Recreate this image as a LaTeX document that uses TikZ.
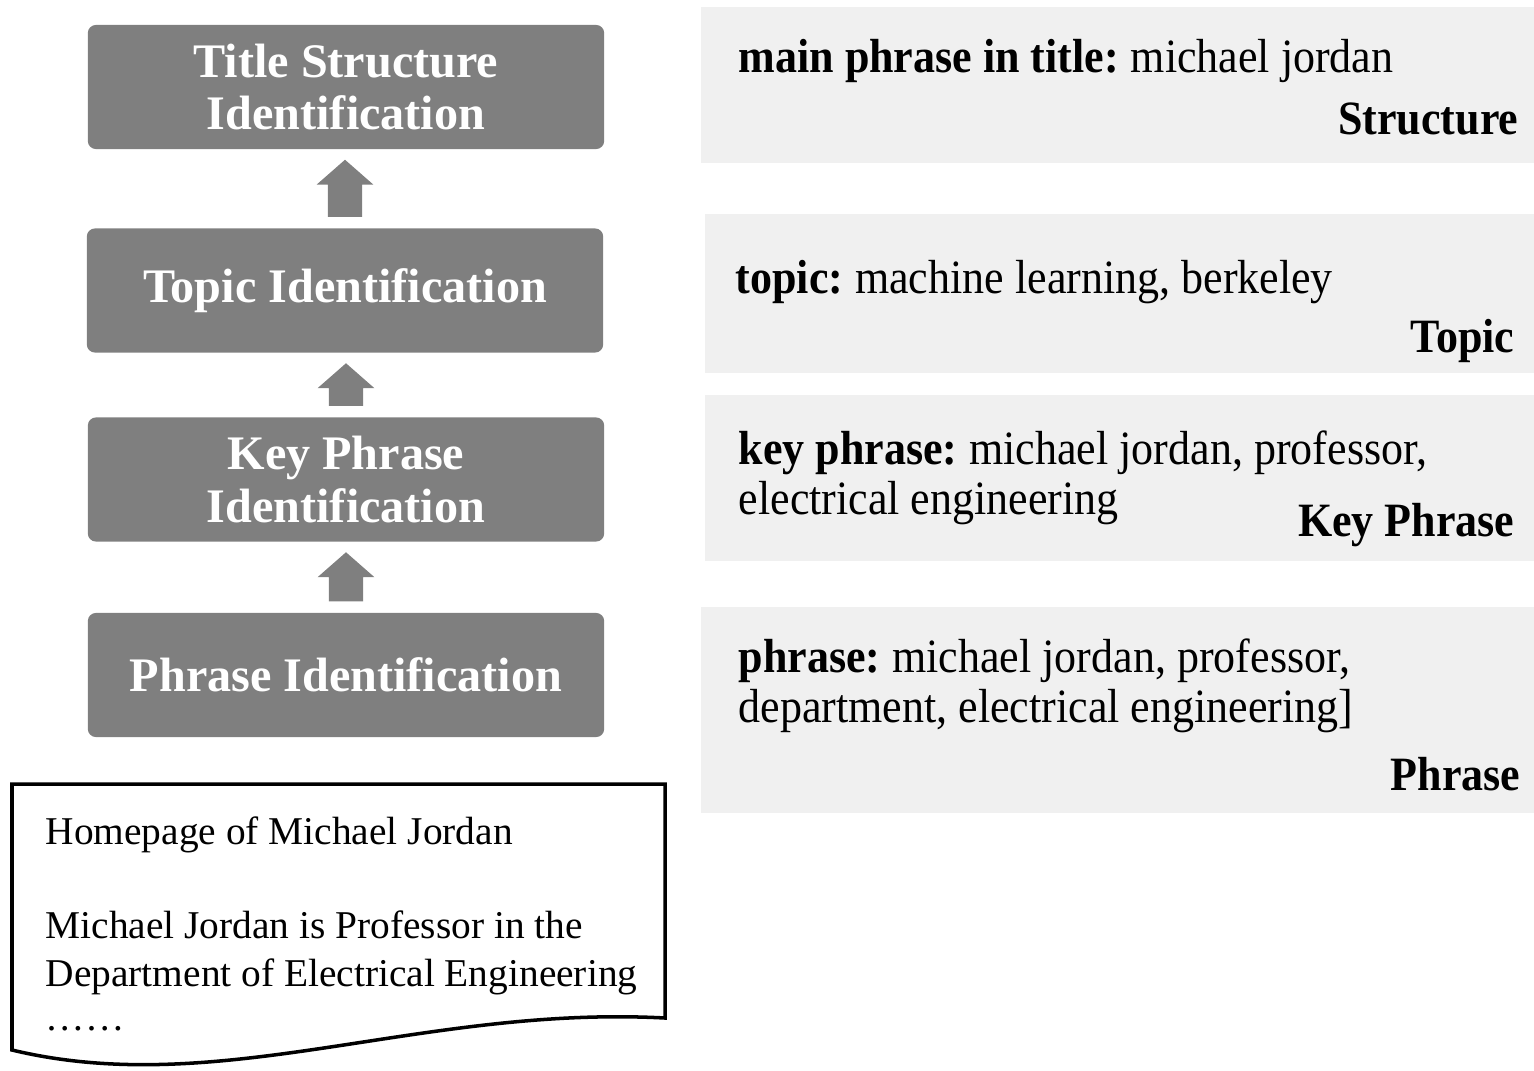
\documentclass[tikz,border=0pt]{standalone}
\usepackage{fontspec}
\setmainfont{Liberation Serif}
\newfontfamily\rfont{Liberation Serif}[FakeStretch=0.92]
\usetikzlibrary{calc}
\definecolor{boxgray}{HTML}{7F7F7F}
\definecolor{panelgray}{HTML}{F0F0F0}
\newcommand\kgap{\hspace{0.25em}}
\tikzset{
 gbox/.style={fill=boxgray, rounded corners=0.08cm, minimum width=5.16cm, minimum height=1.24cm, inner sep=0pt, text=white, font=\fontsize{13.7}{14.8}\selectfont\bfseries, align=center},
 panel/.style={fill=panelgray, draw=none, anchor=north west, inner sep=0pt},
 ptext/.style={inner sep=0pt, anchor=base west, align=left, font=\rfont\fontsize{13.6}{14.2}\selectfont},
 plabel/.style={inner sep=0pt, anchor=base east, font=\rfont\fontsize{13.6}{14.2}\selectfont\bfseries},
 dtext/.style={inner sep=0pt, anchor=base west, font=\fontsize{11.2}{13.5}\selectfont},
 docline/.style={draw=black, line width=1pt, fill=white},
}
\newcommand\upblock[2]{\fill[boxgray] let \p1=(#1.north), \p2=(#2.south) in
  (\x1-4.84pt,\y1+3.13pt) -- (\x1+4.84pt,\y1+3.13pt) -- (\x1+4.84pt,\y2-9.95pt) --
  (\x1+8.1pt,\y2-9.95pt) -- (\x1,\y2-2.85pt) -- (\x1-8.1pt,\y2-9.95pt) --
  (\x1-4.84pt,\y2-9.95pt) -- cycle;}
\begin{document}
\begin{tikzpicture}[x=0.01cm,y=-0.01cm]
\useasboundingbox (0,0) rectangle (1534,1070);
% right panels
\node[panel, minimum width=8.34cm, minimum height=1.56cm] (p1) at (700,6) {};
\node[panel, minimum width=8.30cm, minimum height=1.59cm] (p2) at (704,213) {};
\node[panel, minimum width=8.30cm, minimum height=1.66cm] (p3) at (704,394) {};
\node[panel, minimum width=8.34cm, minimum height=2.06cm] (p4) at (700,606) {};
\node[ptext] (t1) at (738,73) {\textbf{main phrase in title:}\kgap michael jordan};
\node[plabel] (l1) at (1519,135) {Structure};
\node[ptext] (t2) at (735,293) {\textbf{topic:}\kgap machine learning, berkeley};
\node[plabel] (l2) at (1515,352) {Topic};
\node[ptext] (t3) at (738,514) {\textbf{key phrase:}\kgap michael jordan, professor,\\electrical engineering};
\node[plabel] (l3) at (1515,536) {Key Phrase};
\node[ptext] (t4) at (738,722) {\textbf{phrase:}\kgap michael jordan, professor,\\department, electrical engineering]};
\node[plabel] (l4) at (1521,790) {Phrase};
% left boxes
\node[gbox] (b1) at (346,87) {Title Structure\\Identification};
\node[gbox] (b2) at (345,290.5) {Topic Identification};
\node[gbox] (b3) at (346,479.5) {Key Phrase\\Identification};
\node[gbox] (b4) at (346,675) {Phrase Identification};
\upblock{b2}{b1}
\upblock{b3}{b2}
\upblock{b4}{b3}
% document
\draw[docline] (12,784) -- (665,784) -- (665,1018) .. controls (420,1005) and (220,1100) .. (12,1050) -- cycle;
\node[dtext] (d1) at (45,844) {Homepage of Michael Jordan};
\node[dtext] (d2) at (45,938) {Michael Jordan is Professor in the};
\node[dtext] (d3) at (45,986) {Department of Electrical Engineering};
\node[dtext] (d4) at (45,1030) {……};
\end{tikzpicture}
\end{document}
